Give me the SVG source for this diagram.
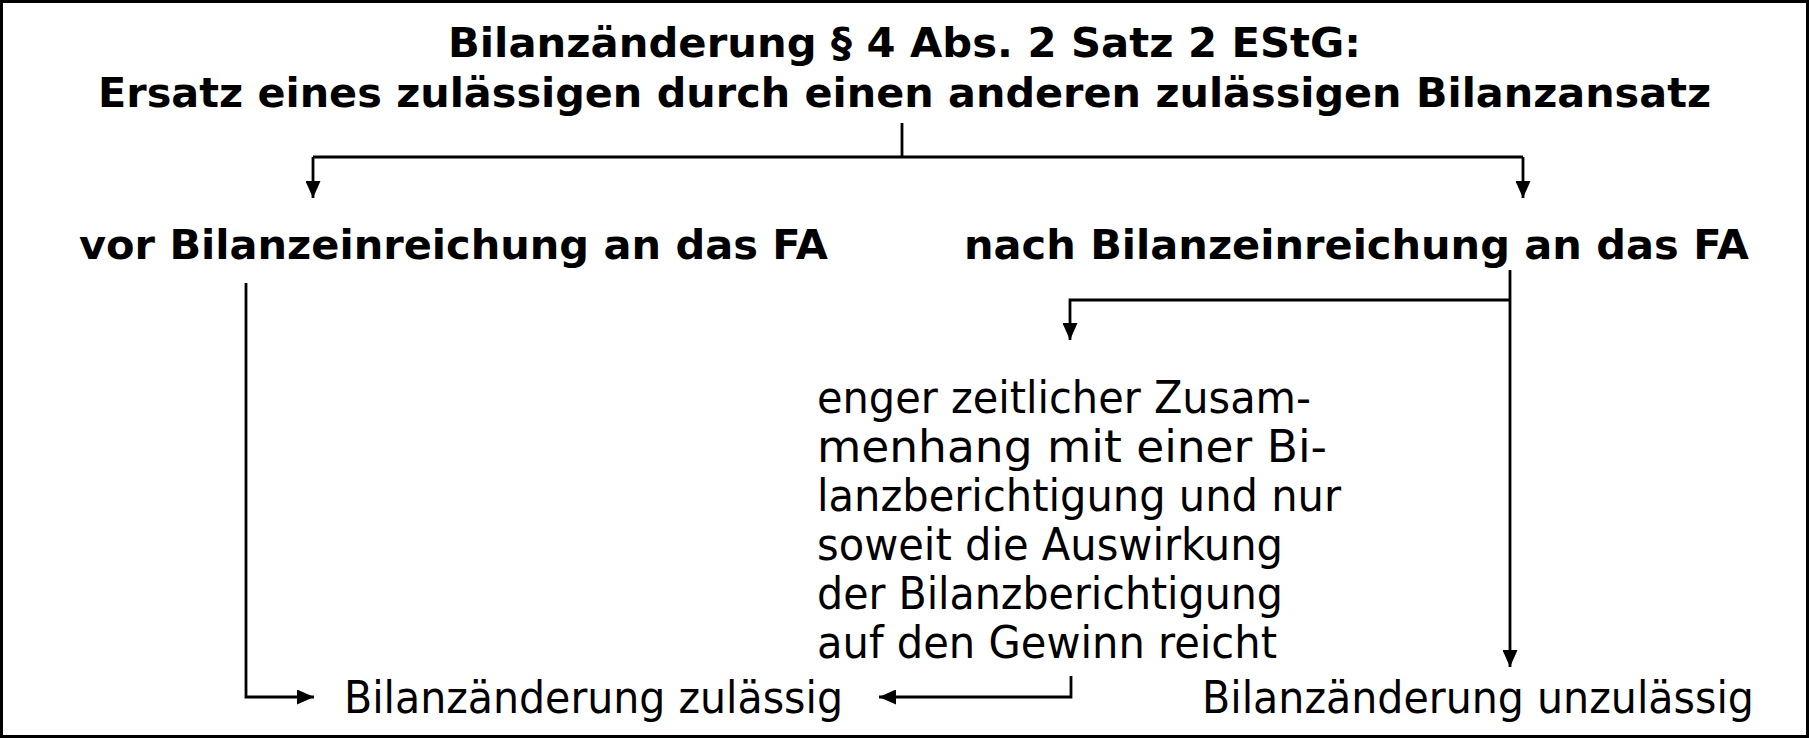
<svg xmlns="http://www.w3.org/2000/svg" width="1809" height="738" viewBox="0 0 1809 738">
<style>
.b{font-family:"DejaVu Sans","Liberation Sans",sans-serif;font-weight:bold;font-size:41px;fill:#000}
.r{font-family:"DejaVu Sans Condensed","DejaVu Sans","Liberation Sans",sans-serif;font-size:44px;fill:#000}
.c{fill:none;stroke:#000;stroke-width:2.8}
</style>
<defs>
<marker id="ah" markerUnits="userSpaceOnUse" markerWidth="17" markerHeight="15" refX="17" refY="7.5" orient="auto">
<path d="M0,0 L17,7.5 L0,15 z" fill="#000"/>
</marker>
</defs>
<rect x="1.5" y="1.5" width="1806" height="735" fill="#fff" stroke="#000" stroke-width="3"/>
<g id="title">
<text class="b" x="448" y="57" textLength="913" lengthAdjust="spacingAndGlyphs">Bilanzänderung § 4 Abs. 2 Satz 2 EStG:</text>
<text class="b" x="98" y="107" textLength="1613" lengthAdjust="spacingAndGlyphs">Ersatz eines zulässigen durch einen anderen zulässigen Bilanzansatz</text>
</g>
<g id="vor">
<text class="b" x="79" y="259" textLength="749" lengthAdjust="spacingAndGlyphs">vor Bilanzeinreichung an das FA</text>
</g>
<g id="nach">
<text class="b" x="964" y="259" textLength="785" lengthAdjust="spacingAndGlyphs">nach Bilanzeinreichung an das FA</text>
</g>
<g id="bedingung">
<text class="r" x="817" y="413" textLength="494" lengthAdjust="spacingAndGlyphs">enger zeitlicher Zusam-</text>
<text class="r" x="817" y="462" textLength="510" lengthAdjust="spacingAndGlyphs">menhang mit einer Bi-</text>
<text class="r" x="817" y="511" textLength="524" lengthAdjust="spacingAndGlyphs">lanzberichtigung und nur</text>
<text class="r" x="817" y="560" textLength="466" lengthAdjust="spacingAndGlyphs">soweit die Auswirkung</text>
<text class="r" x="817" y="609" textLength="466" lengthAdjust="spacingAndGlyphs">der Bilanzberichtigung</text>
<text class="r" x="817" y="658" textLength="460" lengthAdjust="spacingAndGlyphs">auf den Gewinn reicht</text>
</g>
<g id="zulaessig">
<text class="r" x="344" y="713" textLength="499" lengthAdjust="spacingAndGlyphs">Bilanzänderung zulässig</text>
</g>
<g id="unzulaessig">
<text class="r" x="1202" y="713" textLength="552" lengthAdjust="spacingAndGlyphs">Bilanzänderung unzulässig</text>
</g>
<g id="connectors">
<path class="c" d="M902,123 V157 M313,157 H1523"/>
<path class="c" d="M313,157 V198" marker-end="url(#ah)"/>
<path class="c" d="M1523,157 V198" marker-end="url(#ah)"/>
<path class="c" d="M246,283 V697 H314" marker-end="url(#ah)"/>
<path class="c" d="M1510,270 V667" marker-end="url(#ah)"/>
<path class="c" d="M1510,300 H1070 V340" marker-end="url(#ah)"/>
<path class="c" d="M1071,676 V697 H879" marker-end="url(#ah)"/>
</g>
</svg>
